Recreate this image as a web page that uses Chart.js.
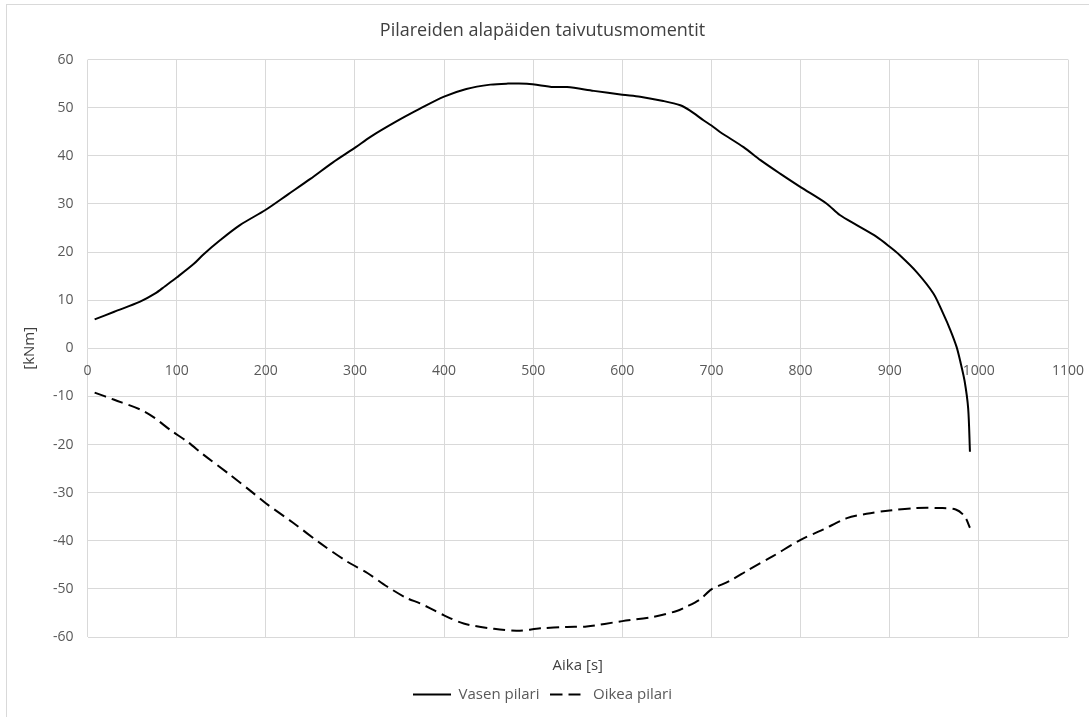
<!DOCTYPE html>
<html>
<head>
<meta charset="utf-8">
<script src="https://cdn.jsdelivr.net/npm/chart.js@4"></script>
<style>
  html, body { margin: 0; padding: 0; background: #fff; }
  #wrap { position: relative; width: 1089px; height: 717px; }
  #frame {
    position: absolute; left: 6px; top: 4px; right: 0; bottom: 0;
    border-left: 1px solid #d9d9d9; border-top: 1px solid #d9d9d9;
  }
  canvas { position: absolute; left: 0; top: 0; }
</style>
</head>
<body>
<div id="wrap">
  <div id="frame"></div>
  <canvas id="chart" width="1089" height="717"></canvas>
</div>
<script>
// Vasen pilari (left column), time [s] and moment [kNm]
const timeLeft = [8, 30, 59, 76, 87, 100, 119, 130, 149, 171, 200, 225, 250, 275, 301, 317, 347, 373, 400,
    425, 452, 470, 493, 523, 538, 568, 600, 620, 646, 665, 676, 691, 700, 710, 736, 755, 777, 800,
    829, 844, 863, 885, 900, 911, 930, 949, 960, 968, 975, 979, 984, 988, 990];
const momentLeft = [6.0, 7.6, 9.7, 11.4, 12.9, 14.7, 17.5, 19.5, 22.5, 25.6, 28.8, 32.0, 35.2, 38.6, 41.8, 43.9, 47.2, 49.8, 52.3,
    53.9, 54.8, 55.0, 55.0, 54.3, 54.3, 53.5, 52.7, 52.3, 51.4, 50.5, 49.4, 47.4, 46.3, 44.9, 41.8, 39.1, 36.3, 33.5,
    30.1, 27.7, 25.6, 23.2, 21.1, 19.4, 15.9, 11.4, 7.2, 3.8, 0.3, -2.6, -6.8, -12.5, -21.5];

// Oikea pilari (right column)
const timeRight = [8, 30, 59, 74, 93, 112, 130, 160, 186, 200, 231, 261, 291, 314, 336, 358, 373, 384, 400,
    422, 456, 482, 508, 538, 560, 600, 635, 661, 672, 687, 700, 720, 742, 769, 800, 825, 852, 874,
    900, 930, 956, 974, 984, 990];
const momentRight = [-9.2, -10.7, -12.7, -14.3, -17.0, -19.4, -22.1, -26.3, -30.1, -32.2, -36.3, -40.5, -44.3, -46.7, -49.5, -51.9, -53.0, -54.0, -55.5,
    -57.2, -58.3, -58.7, -58.2, -57.9, -57.8, -56.7, -55.8, -54.6, -53.7, -52.2, -50.1, -48.4, -46.0, -43.2, -39.8, -37.7, -35.3, -34.4,
    -33.7, -33.2, -33.2, -33.5, -34.9, -37.3];

const seriesNames = ["Vasen pilari", "Oikea pilari"];
const chartTitle = "Pilareiden alapäiden taivutusmomentit";
const xTitle = "Aika [s]";
const yTitle = "[kNm]";

const DASH = [12, 6];

function toPoints(xs, ys) {
    return xs.map((x, i) => ({ x: x, y: ys[i] }));
}

// small canvas used as legend symbol, so the dash shows in the legend too
function lineSymbol(width, dash) {
    const c = document.createElement("canvas");
    c.width = width;
    c.height = 4;
    const g = c.getContext("2d");
    g.strokeStyle = "#000";
    g.lineWidth = 2;
    g.setLineDash(dash);
    g.beginPath();
    g.moveTo(0, 2);
    g.lineTo(width, 2);
    g.stroke();
    return c;
}

// labels on the zero line may hang over the plot edges
function noSidePadding(scale) {
    scale.paddingLeft = 0;
    scale.paddingRight = 0;
}

const FONT = "'Open Sans', 'Noto Sans', sans-serif";
const GRID = "#d9d9d9";
const TEXT = "#595959";

Chart.defaults.font.family = FONT;
Chart.defaults.color = TEXT;

const symbols = [lineSymbol(38, []), lineSymbol(32, DASH)];

const ctx = document.getElementById("chart");
new Chart(ctx, {
    type: "line",
    data: {
        datasets: [
            {
                label: seriesNames[0],
                data: toPoints(timeLeft, momentLeft),
                borderColor: "#000",
                backgroundColor: "#000",
                borderWidth: 2,
                pointRadius: 0,
                tension: 0.3,
            },
            {
                label: seriesNames[1],
                data: toPoints(timeRight, momentRight),
                borderColor: "#000",
                backgroundColor: "#000",
                borderWidth: 2,
                borderDash: DASH,
                pointRadius: 0,
                tension: 0.3,
            },
        ],
    },
    options: {
        responsive: false,
        animation: false,
        layout: { padding: { left: 17, right: 21, top: 6, bottom: 5 } },
        scales: {
            x: {
                type: "linear",
                position: "bottom",
                min: 0,
                max: 1100,
                ticks: { display: false, stepSize: 100 },
                grid: { color: GRID, drawTicks: false },
                border: { display: false },
                afterFit: noSidePadding,
                title: {
                    display: true,
                    text: xTitle,
                    font: { size: 15 },
                    color: "#404040",
                    padding: { top: 20, bottom: 4 },
                },
            },
            // tick labels sit on the zero line, like in the original
            xZero: {
                type: "linear",
                axis: "x",
                position: { y: 0 },
                min: 0,
                max: 1100,
                ticks: {
                    stepSize: 100,
                    font: { size: 14 },
                    padding: 14,
                    callback: (value) => String(value),
                },
                grid: { display: false, drawTicks: false },
                border: { display: false },
                afterFit: noSidePadding,
            },
            y: {
                min: -60,
                max: 60,
                ticks: {
                    stepSize: 10,
                    font: { size: 14 },
                    padding: 14,
                    callback: (value) => String(value),
                },
                grid: { color: GRID, drawTicks: false },
                border: { display: false },
                title: {
                    display: true,
                    text: yTitle,
                    font: { size: 15 },
                    color: "#404040",
                    padding: { top: 4, bottom: 0 },
                },
            },
        },
        plugins: {
            title: {
                display: true,
                text: chartTitle,
                font: { size: 18, weight: "normal" },
                color: "#404040",
                padding: { top: 14, bottom: 18 },
            },
            legend: {
                position: "bottom",
                labels: {
                    usePointStyle: true,
                    pointStyleWidth: 38,
                    boxHeight: 8,
                    font: { size: 15 },
                    padding: 8,
                    generateLabels: (chart) =>
                        Chart.defaults.plugins.legend.labels.generateLabels(chart)
                            .map((item, i) => Object.assign(item, { pointStyle: symbols[i] })),
                },
            },
            tooltip: { enabled: false },
        },
    },
});
</script>
</body>
</html>
